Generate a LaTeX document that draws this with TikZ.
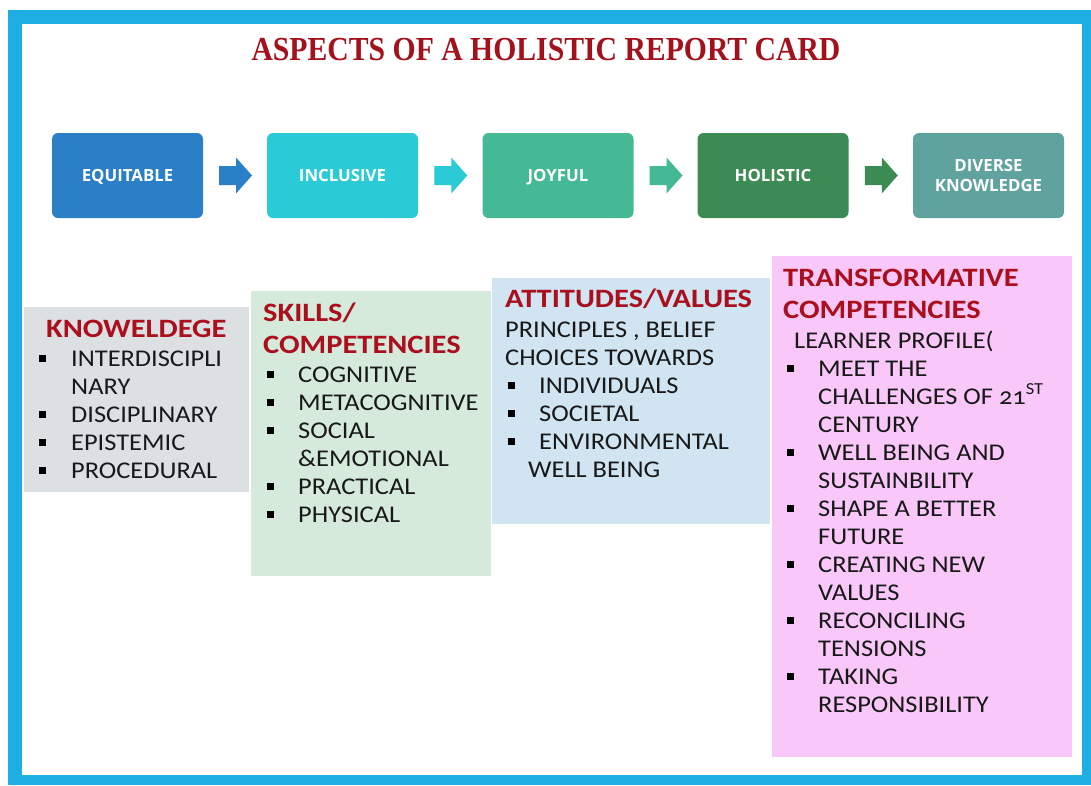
\documentclass[tikz,border=0pt]{standalone}
\usepackage{fontspec}
\setmainfont{Carlito}
\newfontfamily\bodyf[FakeStretch=1.1,Numbers=OldStyle]{Carlito}
\newfontfamily\headf[FakeStretch=1.15]{Carlito}
\newfontfamily\boxf{Open Sans}
\newfontfamily\titlef{Liberation Serif}
\usetikzlibrary{calc}
\definecolor{frameblue}{HTML}{1FAEE3}
\definecolor{cA}{HTML}{2A7FC6}
\definecolor{cB}{HTML}{2ACAD7}
\definecolor{cC}{HTML}{45B994}
\definecolor{cD}{HTML}{3C8A54}
\definecolor{cE}{HTML}{60A29E}
\definecolor{greybox}{HTML}{DDE0E3}
\definecolor{greenbox}{HTML}{D5EADB}
\definecolor{bluebox}{HTML}{D0E4F2}
\definecolor{pinkbox}{HTML}{F9C8F9}
\definecolor{hred}{HTML}{AA0F1D}
\definecolor{titlered}{HTML}{A3121C}
\definecolor{bodyblack}{HTML}{181818}
\newcommand\listblock[4]{%
  \foreach \b/\x/\t [count=\i] in {#4} {
    \pgfmathsetmacro\yy{#3+28*(\i-1)}
    \node[txt] (#1\i) at (\x,\yy) {\t};
    \ifnum\b=1 \node[bul] (#1b\i) at (#2,\yy-8) {};\fi
  }}
\begin{document}
\begin{tikzpicture}[x=1pt,y=-1pt,
  topbox/.style={rectangle, rounded corners=6pt, minimum width=151pt, minimum height=85pt,
    inner sep=0pt, text=white, align=center, font=\boxf\bfseries\fontsize{16.8}{20}\selectfont},
  oneline/.style={text height=12pt, text depth=0pt},
  txt/.style={anchor=base west, inner sep=0pt, text=bodyblack, font=\bodyf\fontsize{24}{28}\selectfont},
  head/.style={anchor=base west, inner sep=0pt, text=hred, font=\headf\bfseries\fontsize{26.5}{30}\selectfont},
  bul/.style={rectangle, fill=black, minimum size=7pt, inner sep=0pt}
]
\useasboundingbox (0,0) rectangle (1091,785);
\fill[white] (0,0) rectangle (1091,785);
\fill[frameblue] (8,10) rectangle (1091,785);
\fill[white] (22,24) rectangle (1082,775);

% title
\node[anchor=base, inner sep=0pt, text=titlered, font=\titlef\bfseries\fontsize{30}{34}\selectfont] (title) at (546,60) {\scalebox{0.99}[1.12]{ASPECTS OF A HOLISTIC REPORT CARD}};

% top flow boxes
\node[topbox, oneline, fill=cA] (b1) at (127.5,175.5) {EQUITABLE};
\node[topbox, oneline, fill=cB] (b2) at (342.5,175.5) {INCLUSIVE};
\node[topbox, oneline, fill=cC] (b3) at (558,175.5) {JOYFUL};
\node[topbox, oneline, fill=cD] (b4) at (773,175.5) {HOLISTIC};
\node[topbox, fill=cE] (b5) at (988.5,175.5) {DIVERSE\\KNOWLEDGE};

\foreach \p/\q/\c in {b1/b2/cA, b2/b3/cB, b3/b4/cC, b4/b5/cD} {
  \coordinate (m\p) at ($(\p.east)!0.5!(\q.west)$);
  \fill[\c] ([shift={(-16,-9.5)}]m\p) -- ([shift={(1,-9.5)}]m\p) -- ([shift={(1,-18)}]m\p)
     -- ([shift={(17,0)}]m\p) -- ([shift={(1,18)}]m\p) -- ([shift={(1,9.5)}]m\p)
     -- ([shift={(-16,9.5)}]m\p) -- cycle;
}

% lower panels
\fill[greybox] (24,307) rectangle (249,492);
\fill[greenbox] (251,291) rectangle (491,576);
\fill[bluebox] (492,278) rectangle (770,524);
\fill[pinkbox] (772,256) rectangle (1072,757);

% knowledge
\node[head] (kh) at (46,337) {KNOWELDEGE};
\listblock{k}{42}{366}{1/71/INTERDISCIPLI, 0/71/NARY, 1/71/DISCIPLINARY, 1/71/EPISTEMIC, 1/71/PROCEDURAL}

% skills
\node[head] (sh1) at (263,321) {SKILLS/};
\node[head] (sh2) at (263,353) {COMPETENCIES};
\listblock{s}{270}{382}{1/298/COGNITIVE, 1/298/METACOGNITIVE, 1/298/SOCIAL, 0/298/\&EMOTIONAL, 1/298/PRACTICAL, 1/298/PHYSICAL}

% attitudes
\node[head] (ah) at (505,307) {ATTITUDES/VALUES};
\listblock{a}{511}{337}{0/505/{PRINCIPLES , BELIEF}, 0/505/CHOICES TOWARDS, 1/539/INDIVIDUALS, 1/539/SOCIETAL, 1/539/ENVIRONMENTAL, 0/528/WELL BEING}

% transformative
\node[head] (th1) at (783,286) {TRANSFORMATIVE};
\node[head] (th2) at (783,318) {COMPETENCIES};
\listblock{t}{790}{348}{0/794/LEARNER PROFILE(, 1/818/MEET THE, 0/818/{CHALLENGES OF 21\textsuperscript{ST}}, 0/818/CENTURY, 1/818/WELL BEING AND, 0/818/SUSTAINBILITY, 1/818/SHAPE A BETTER, 0/818/FUTURE, 1/818/CREATING NEW, 0/818/VALUES, 1/818/RECONCILING, 0/818/TENSIONS, 1/818/TAKING, 0/818/RESPONSIBILITY}
\end{tikzpicture}
\end{document}
